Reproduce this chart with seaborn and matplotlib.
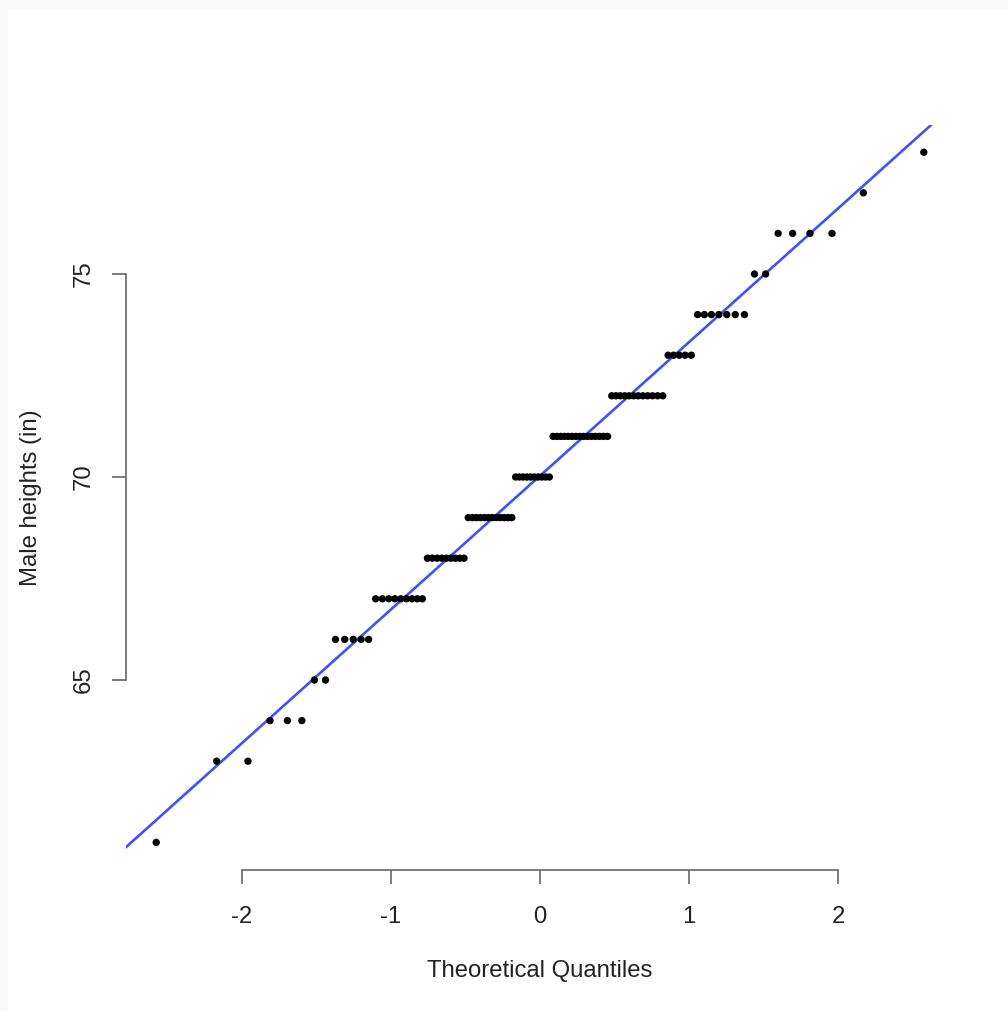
import numpy as np
import pandas as pd
import matplotlib
matplotlib.use("Agg")
import matplotlib.pyplot as plt
import seaborn as sns
from statistics import NormalDist

# Heights (in) observed and how many men at each height
height_levels = [61, 63, 64, 65, 66, 67, 68, 69, 70, 71, 72, 73, 74, 75, 76, 77, 78]
height_counts = [1, 2, 3, 2, 5, 9, 9, 12, 10, 15, 12, 5, 7, 2, 4, 1, 1]
x_ticks = [-2, -1, 0, 1, 2]
y_ticks = [65, 70, 75]

heights = np.sort(np.repeat(height_levels, height_counts)).astype(float)
n = len(heights)
probs = (np.arange(1, n + 1) - 0.5) / n
theo = np.array([NormalDist().inv_cdf(p) for p in probs])
df = pd.DataFrame({"theo": theo, "height": heights})

sns.set_theme(style="white")
plt.rcParams['font.family'] = ['Liberation Sans', 'DejaVu Sans']

W, H = 1008, 1011
fig = plt.figure(figsize=(W / 100, H / 100), dpi=100, facecolor="white")
# light grey strips top and left
fig.patches.append(plt.Rectangle((0, 1 - 8 / H), 1, 8 / H, transform=fig.transFigure,
                                 color="#f8f8f8", zorder=0))
fig.patches.append(plt.Rectangle((0, 0), 7 / W, 1, transform=fig.transFigure,
                                 color="#f8f8f8", zorder=0))

left, right, top, bottom = 125.5, 954.5, 124.6, 870.0
ax = fig.add_axes([left / W, (H - bottom) / H, (right - left) / W, (bottom - top) / H])
ax.set_facecolor("white")

sns.scatterplot(data=df, x="theo", y="height", ax=ax, color="black", s=28,
                edgecolor="none", zorder=3)
mean, sd = heights.mean(), heights.std(ddof=1)
ax.axline((0, mean), slope=sd, color="#4050ff", lw=1.9, zorder=2)

xr = theo.max() - theo.min()
ax.set_xlim(theo.min() - 0.04 * xr, theo.max() + 0.04 * xr)
yr = heights.max() - heights.min()
ax.set_ylim(heights.min() - 0.04 * yr, heights.max() + 0.04 * yr)

for s in ["top", "right"]:
    ax.spines[s].set_visible(False)
ax.spines["left"].set_bounds(65, 75)
ax.spines["bottom"].set_bounds(-2, 2)
for s in ["left", "bottom"]:
    ax.spines[s].set_color("#666666")
    ax.spines[s].set_linewidth(1.2)

fs = 17.2
ax.set_xticks(x_ticks)
ax.set_yticks(y_ticks)
ax.set_xticklabels([str(v) for v in x_ticks])
ax.set_yticklabels([str(v) for v in y_ticks], rotation=90, va="center")
ax.tick_params(axis="both", direction="out", length=10, width=1.2, color="#666666",
               labelsize=fs, labelcolor="#222222", bottom=True, left=True)
ax.tick_params(axis="x", pad=16)
ax.tick_params(axis="y", pad=12)

ax.set_xlabel("Theoretical Quantiles", fontsize=fs, color="#222222", labelpad=23)
ax.set_ylabel("Male heights (in)", fontsize=fs, color="#222222", labelpad=22)

fig.savefig("out.png", dpi=100, facecolor=fig.get_facecolor())
